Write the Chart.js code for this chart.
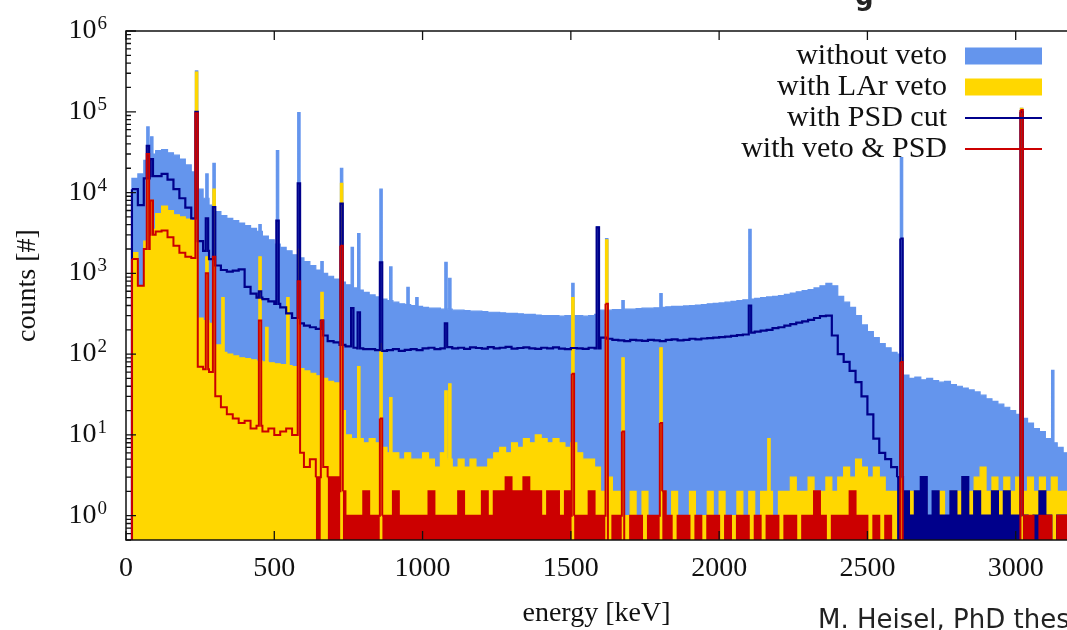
<!DOCTYPE html>
<html>
<head>
<meta charset="utf-8">
<script src="https://cdn.jsdelivr.net/npm/chart.js@4.4.1/dist/chart.umd.min.js"></script>
<style>
  html, body { margin: 0; padding: 0; background: #fff; }
  #wrap { width: 1067px; height: 630px; position: relative; }
</style>
</head>
<body>
<div id="wrap"><canvas id="spectrum"></canvas></div>
<script>
// Histogram binning: bin i covers [i*20, i*20+20) keV
const BIN_WIDTH = 20;
const PEAK_HALF = 4;    // half width of a line peak, keV
const EMPTY = 0.1;      // empty bins sit below the log axis

const seriesNames = ['without veto', 'with LAr veto', 'with PSD cut', 'with veto & PSD'];
const seriesColors = ['#6495ed', '#ffd700', '#00008b', '#cc0000'];

const xTickValues = [0, 500, 1000, 1500, 2000, 2500, 3000];
const yExponents = [0, 1, 2, 3, 4, 5, 6];

// continuum counts per bin (160 bins, 0 - 3200 keV)
const countsNoVeto = [
  0, 15000, 17000, 25000, 30000, 33000, 34000, 31000, 29000, 26000,
  22000, 18000, 11000, 8500, 7000, 5800, 5200, 4800, 4500, 4200,
  3900, 3600, 3300, 2900, 2600, 2300, 2100, 1900, 1700, 1550,
  1400, 1250, 1100, 1000, 920, 850, 780, 720, 660, 620,
  580, 540, 510, 480, 460, 440, 420, 410, 400, 390,
  380, 370, 370, 360, 360, 350, 350, 345, 340, 340,
  335, 330, 330, 325, 320, 320, 315, 310, 310, 305,
  300, 300, 300, 295, 300, 300, 300, 295, 300, 310,
  350, 350, 355, 355, 360, 360, 365, 370, 370, 375,
  380, 385, 390, 390, 395, 400, 405, 410, 420, 425,
  430, 440, 450, 460, 470, 480, 490, 500, 510, 520,
  530, 550, 570, 590, 610, 630, 660, 700, 750, 700,
  520, 440, 380, 300, 230, 190, 160, 135, 120, 105,
  100, 55, 50, 52, 48, 50, 47, 45, 46, 42,
  40, 38, 36, 34, 31, 28, 26, 24, 22, 20,
  18, 16, 14, 12, 11, 9, 8, 7, 6, 5
];
const countsVeto = [
  0, 1800, 700, 2500, 3500, 5500, 6800, 6000, 5300, 5000,
  4700, 4500, 280, 260, 240, 130, 105, 100, 95, 90,
  88, 85, 82, 80, 78, 76, 74, 72, 70, 66,
  62, 58, 54, 50, 46, 44, 20, 10, 9, 9,
  8, 9, 8, 7, 6, 6, 5, 6, 5, 5,
  6, 5, 4, 6, 5, 4, 5, 4, 5, 4,
  4, 5, 6, 7, 6, 8, 7, 9, 8, 10,
  9, 8, 9, 8, 7, 8, 6, 5, 5, 4,
  2, 3, 2, 2, 1, 2, 1, 2, 1, 1,
  2, 1, 2, 1, 1, 2, 1, 1, 2, 1,
  2, 1, 1, 2, 1, 2, 1, 2, 2, 1,
  2, 2, 3, 2, 2, 3, 2, 2, 3, 2,
  3, 4, 3, 5, 4, 3, 4, 3, 2, 2,
  1, 1, 2, 1, 2, 1, 1, 2, 1, 2,
  2, 3, 2, 3, 4, 2, 3, 2, 3, 2,
  3, 2, 3, 2, 3, 2, 3, 2, 2, 3
];
const countsPsd = [
  0, 11000, 7000, 15000, 16000, 16000, 17000, 14500, 11000, 8500,
  6500, 4800, 2500, 1900, 1500, 1250, 1100, 1050, 1080, 1120,
  680, 560, 500, 480, 450, 420, 380, 320, 280, 240,
  225, 215, 205, 170, 145, 140, 130, 125, 120, 118,
  115, 115, 112, 110, 112, 115, 110, 113, 115, 112,
  118, 120, 115, 118, 122, 118, 120, 116, 121, 119,
  117, 122, 118, 120, 123, 117, 119, 121, 118, 116,
  120, 118, 121, 117, 115, 119, 118, 116, 120, 118,
  160, 155, 150, 148, 145, 150, 148, 146, 150, 148,
  145, 150, 152, 148, 150, 155, 152, 156, 158, 160,
  162, 165, 168, 172, 175, 185, 190, 195, 200, 210,
  215, 225, 235, 245, 255, 265, 280, 295, 300, 170,
  100, 80, 62, 45, 30, 18, 9, 6, 5, 4,
  3, 2, 1, 2, 3, 1, 2, 1, 1, 2,
  1, 3, 1, 2, 1, 1, 2, 1, 2, 1,
  1, 1, 0, 1, 2, 1, 0, 1, 1, 2
];
const countsVetoPsd = [
  0, 1500, 700, 2000, 3000, 3300, 3400, 2800, 2200, 1800,
  1600, 1550, 70, 65, 60, 30, 22, 18, 16, 14,
  15, 12, 13, 11, 12, 10, 11, 12, 10, 6,
  4, 5, 3, 4, 3, 3, 2, 1, 1, 1,
  2, 1, 1, 1, 1, 2, 1, 1, 1, 1,
  1, 2, 1, 1, 1, 1, 2, 1, 1, 1,
  2, 1, 2, 2, 3, 2, 2, 3, 2, 2,
  1, 2, 2, 1, 2, 1, 1, 1, 2, 1,
  1, 0, 1, 1, 0, 1, 1, 0, 1, 1,
  2, 1, 0, 1, 1, 0, 1, 0, 1, 1,
  0, 1, 0, 1, 1, 0, 1, 0, 1, 1,
  0, 1, 1, 0, 1, 1, 2, 1, 0, 1,
  1, 1, 2, 1, 1, 0, 1, 0, 1, 0,
  0, 0, 0, 0, 0, 0, 0, 0, 0, 0,
  0, 0, 0, 0, 0, 0, 0, 0, 0, 0,
  0, 1, 1, 0, 1, 1, 0, 1, 1, 1
];

// gamma lines: energy (keV) and peak height per spectrum (null = no visible line)
const peakEnergy     = [74, 87, 238, 273, 297, 327, 452, 475, 511, 546, 583, 661, 727, 763, 785, 860, 893, 951, 981, 1079, 1092, 1507, 1591, 1621, 1676, 1804, 2104, 2168, 2615, 3020, 3125];
const peakNoVeto     = [65000, 49000, 320000, 17000, 23000, null, 4000, null, 33000, null, 98000, 1400, 20000, 2100, 3100, 11000, 1200, 670, 500, 1370, 870, 750, 3800, 2700, 460, 560, 3500, null, 27000, 110000, 63];
const peakVeto       = [30000, 8000, 310000, 1600, 11000, 500, 1600, 215, null, 500, 2000, 580, 13000, null, 70, 135, 29, null, null, 35, 43, 500, null, 2600, 90, 120, null, 9, 90, 110000, null];
const peakPsd        = [38000, 26000, 100000, 4800, 6600, null, 600, null, 4500, null, 13000, 260, 7300, 370, 330, 1370, null, null, null, 240, null, null, 3700, null, null, null, 400, null, 2700, 100000, null];
const peakVetoPsd    = [30000, 8000, 96000, 1000, 1600, null, 260, null, null, null, 800, 260, 2200, null, null, 16, null, null, null, null, null, 57, null, 420, 11, 14, null, null, 80, 105000, null];

// turn bin counts + line peaks into step points (left bin edges)
function buildSteps(counts, peaks) {
  const windows = [];
  peakEnergy.forEach((e, k) => {
    if (peaks[k] != null) windows.push([e - PEAK_HALF, e + PEAK_HALF, peaks[k]]);
  });
  const pts = [];
  counts.forEach((c, i) => {
    const x = i * BIN_WIDTH;
    if (!windows.some(w => x > w[0] && x < w[1])) pts.push({ x: x, y: c });
  });
  windows.forEach(w => {
    pts.push({ x: w[0], y: w[2] });
    pts.push({ x: w[1], y: counts[Math.floor(w[1] / BIN_WIDTH)] });
  });
  pts.sort((a, b) => a.x - b.x);
  pts.push({ x: counts.length * BIN_WIDTH, y: counts[counts.length - 1] });
  return pts.map(p => ({ x: p.x, y: p.y > 0 ? p.y : EMPTY }));
}

// low-count stretches look solid in the original because the fine bins flicker between 0 and 1
function lowFill(color) {
  return ctx => (ctx.p0.parsed.y <= 3 ? color : 'rgba(0,0,0,0)');
}

const serif = '"Liberation Serif", "DejaVu Serif", serif';

const framePlugin = {
  id: 'frame',
  afterDraw(chart) {
    const { ctx, chartArea: a, scales: { x, y } } = chart;
    ctx.save();
    ctx.strokeStyle = '#111';
    ctx.lineWidth = 1.5;
    ctx.beginPath();
    ctx.moveTo(a.right + 5, a.top);
    ctx.lineTo(a.left, a.top);
    ctx.lineTo(a.left, a.bottom);
    ctx.lineTo(a.right + 5, a.bottom);
    ctx.stroke();

    // inward ticks
    ctx.lineWidth = 1.3;
    ctx.beginPath();
    xTickValues.forEach(v => {
      const px = x.getPixelForValue(v);
      ctx.moveTo(px, a.bottom); ctx.lineTo(px, a.bottom - 9);
      ctx.moveTo(px, a.top); ctx.lineTo(px, a.top + 9);
    });
    for (let k = -1; k <= 6; k++) {
      for (let m = 1; m < 10; m++) {
        const v = m * Math.pow(10, k);
        if (v < y.min || v > y.max) continue;
        const py = y.getPixelForValue(v);
        ctx.moveTo(a.left, py);
        ctx.lineTo(a.left + (m === 1 ? 10 : 5), py);
      }
    }
    ctx.stroke();

    // y labels 10^k
    ctx.fillStyle = '#111';
    ctx.textAlign = 'right';
    ctx.textBaseline = 'alphabetic';
    yExponents.forEach(k => {
      const py = y.getPixelForValue(Math.pow(10, k));
      ctx.font = '19px ' + serif;
      const ew = ctx.measureText(String(k)).width;
      ctx.fillText(String(k), 107, py - 2);
      ctx.font = '28px ' + serif;
      ctx.fillText('10', 107 - ew - 1, py + 7);
    });

    // legend
    seriesNames.forEach((name, i) => {
      const ry = 56 + i * 31;
      ctx.fillStyle = '#111';
      ctx.font = '30px ' + serif;
      ctx.textAlign = 'right';
      ctx.textBaseline = 'middle';
      ctx.fillText(name, 947, ry);
      if (i < 2) {
        ctx.fillStyle = seriesColors[i];
        ctx.fillRect(965, ry - 8.5, 77, 17);
      } else {
        ctx.strokeStyle = seriesColors[i];
        ctx.lineWidth = 2;
        ctx.beginPath();
        ctx.moveTo(965, ry); ctx.lineTo(1042, ry);
        ctx.stroke();
      }
    });

    // source note and cut-off heading
    ctx.fillStyle = '#222';
    ctx.textAlign = 'left';
    ctx.textBaseline = 'alphabetic';
    ctx.font = '26px "DejaVu Sans", sans-serif';
    ctx.fillText('M. Heisel, PhD thesis', 818, 628);
    ctx.font = 'bold 26px "DejaVu Sans", sans-serif';
    ctx.fillText('g', 855, 5);
    ctx.restore();
  }
};

const stepStyle = { stepped: true, pointRadius: 0, tension: 0 };

new Chart(document.getElementById('spectrum'), {
  type: 'line',
  data: {
    datasets: [
      Object.assign({ label: seriesNames[0], data: buildSteps(countsNoVeto, peakNoVeto),
        borderColor: seriesColors[0], backgroundColor: seriesColors[0], borderWidth: 1.2,
        fill: 'start', order: 4 }, stepStyle),
      Object.assign({ label: seriesNames[1], data: buildSteps(countsVeto, peakVeto),
        borderColor: seriesColors[1], backgroundColor: seriesColors[1], borderWidth: 1.2,
        fill: 'start', order: 3 }, stepStyle),
      Object.assign({ label: seriesNames[2], data: buildSteps(countsPsd, peakPsd),
        borderColor: seriesColors[2], backgroundColor: 'rgba(0,0,0,0)', borderWidth: 2.2,
        fill: 'start', segment: { backgroundColor: lowFill(seriesColors[2]) }, order: 2 }, stepStyle),
      Object.assign({ label: seriesNames[3], data: buildSteps(countsVetoPsd, peakVetoPsd),
        borderColor: seriesColors[3], backgroundColor: 'rgba(0,0,0,0)', borderWidth: 2,
        fill: 'start', segment: { backgroundColor: lowFill(seriesColors[3]) }, order: 1 }, stepStyle)
    ]
  },
  options: {
    responsive: true,
    maintainAspectRatio: false,
    animation: false,
    events: [],
    layout: { padding: { top: 31, right: 0, left: 0, bottom: 0 } },
    plugins: { legend: { display: false }, tooltip: { enabled: false } },
    scales: {
      x: {
        type: 'linear',
        min: 0,
        max: 3173,
        afterBuildTicks: s => { s.ticks = xTickValues.map(v => ({ value: v })); },
        afterFit: s => { s.height = 90; },
        grid: { display: false, drawTicks: false },
        border: { display: false },
        ticks: { color: '#111', font: { family: serif, size: 28 }, padding: 12, maxRotation: 0, autoSkip: false,
          callback: v => String(v) },
        title: { display: true, text: 'energy [keV]', color: '#111', font: { family: serif, size: 28 }, padding: { top: 0, bottom: 0 } }
      },
      y: {
        type: 'logarithmic',
        min: 0.5,
        max: 1e6,
        afterFit: s => { s.width = 126; },
        grid: { display: false, drawTicks: false },
        border: { display: false },
        ticks: { display: false },
        title: { display: true, text: 'counts [#]', color: '#111', font: { family: serif, size: 28 }, padding: { top: 11, bottom: 0 } }
      }
    }
  },
  plugins: [framePlugin]
});
</script>
</body>
</html>
